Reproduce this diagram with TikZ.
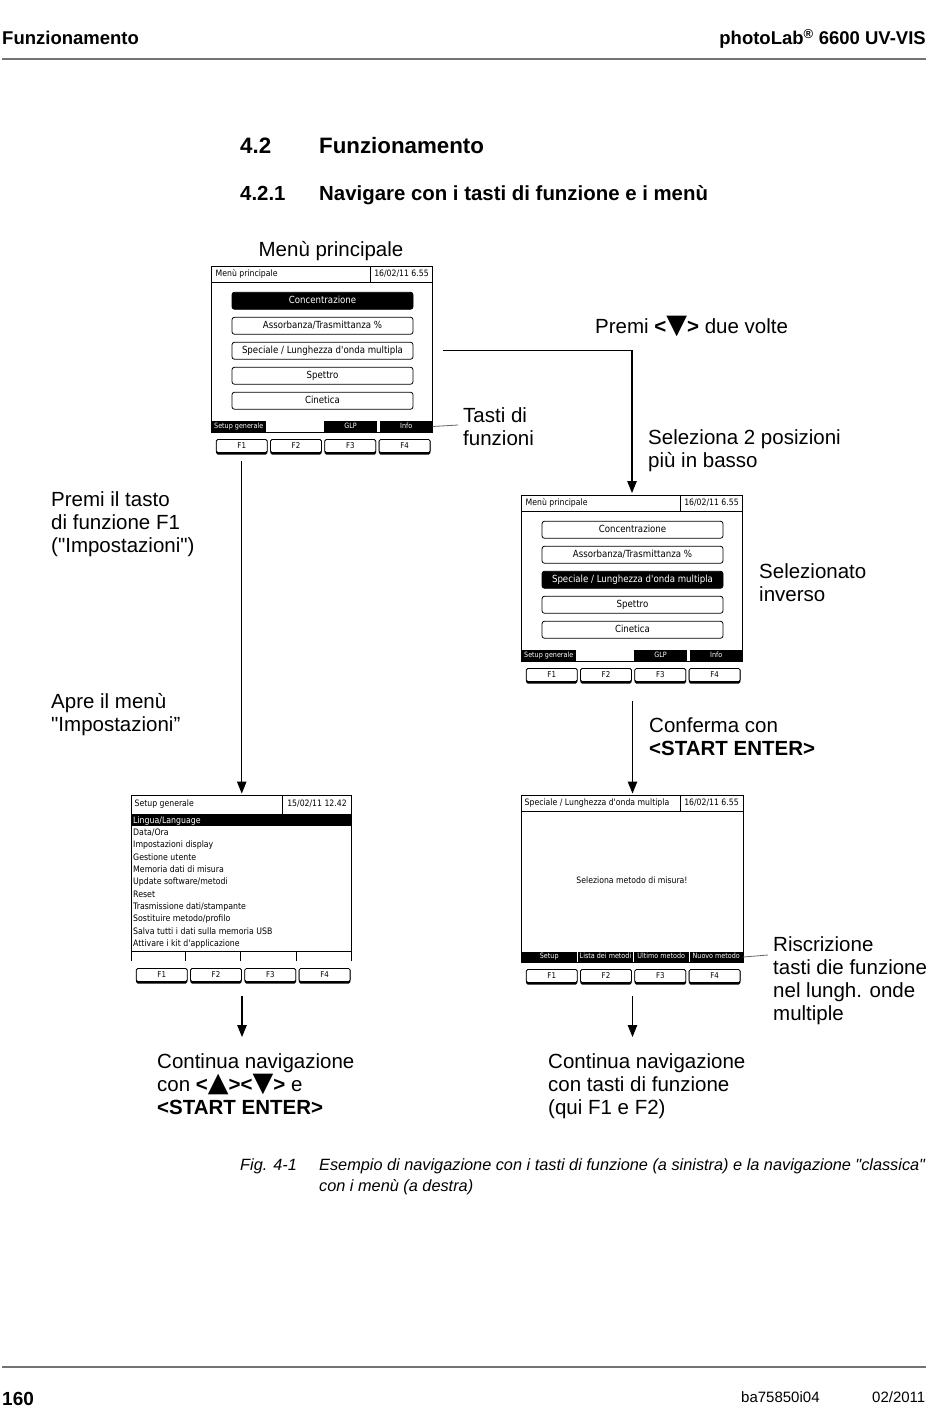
\documentclass[tikz,border=0pt]{standalone}
\usepackage{fontspec}
\setmainfont{Liberation Sans}
\newfontfamily\dejavu{DejaVu Sans}
\newfontfamily\scrfont[FakeStretch=0.88]{DejaVu Sans}
\usetikzlibrary{arrows.meta}
\newcommand\dtri{{\dejavu\fontsize{27}{20}\selectfont ▼}}
\newcommand\utri{{\dejavu\fontsize{27}{20}\selectfont ▲}}
\tikzset{
  lbl/.style={font=\fontsize{20.5}{23}\selectfont, anchor=base west, inner sep=0, align=left},
  arr/.style={line width=1.1pt, -{Triangle[width=9.5pt,length=12pt]}},
  pointer/.style={line width=.8pt, draw=black!60},
  scrbox/.style={draw, line width=1pt, inner sep=0, outer sep=0, anchor=north west},
  hdrtxt/.style={font=\scrfont\fontsize{8.8}{9}\selectfont, inner sep=0, text height=6.4pt, text depth=1.9pt},
  btn/.style={draw, line width=.8pt, rounded corners=2.5pt, minimum width=181pt, minimum height=17pt, inner sep=0, font=\scrfont\fontsize{9.8}{10}\selectfont, text height=7.2pt, text depth=2pt},
  btnsel/.style={btn, fill=black, text=white},
  tabbox/.style={fill=black, text=white, font=\scrfont\fontsize{7.3}{8}\selectfont, inner sep=0, minimum height=11pt, text height=5.3pt, text depth=1.5pt},
  fkey/.style={draw, fill=white, line width=.8pt, rounded corners=1.5pt, minimum width=51pt, minimum height=13pt, inner sep=0, font=\scrfont\fontsize{8}{8}\selectfont, text height=5.8pt, text depth=1.7pt},
  listtxt/.style={font=\scrfont\fontsize{8.9}{9}\selectfont, inner sep=0, anchor=base west},
  title/.style={anchor=base west, inner sep=0},
}
\newcommand\fkeyrow[2]{% prefix, y-centre
  \foreach \k/\cx in {1/30.25,2/84.5,3/138.8,4/193.1}{
    \fill[rounded corners=1.5pt] (\cx-25.7,#2-6.5) rectangle (\cx+25.7,#2+8.5);
    \node[fkey] (#1f\k) at (\cx,#2) {F\k};
  }}
\newcommand\mainmenu[8]{% prefix, x, y, styles of five buttons
\begin{scope}[shift={(#2,#3)}]
  \node[scrbox, minimum width=221pt, minimum height=166pt] (#1) at (0,0) {};
  \draw[line width=.8pt] (0,16) -- (221,16) (159,0) -- (159,16);
  \node[hdrtxt, anchor=west] (#1h) at (4,8.5) {Menù principale};
  \node[hdrtxt] (#1d) at (190,8.5) {16/02/11 6.55};
  \node[#4] (#1b1) at (111,34.75) {Concentrazione};
  \node[#5] (#1b2) at (111,59.75) {Assorbanza/Trasmittanza \%};
  \node[#6] (#1b3) at (111,84.75) {Speciale / Lunghezza d'onda multipla};
  \node[#7] (#1b4) at (111,109.75) {Spettro};
  \node[#8] (#1b5) at (111,134.75) {Cinetica};
  \node[tabbox, minimum width=54.5pt] (#1t1) at (27.25,160.5) {Setup generale};
  \node[tabbox, minimum width=53pt] (#1t3) at (139,160.5) {GLP};
  \node[tabbox, minimum width=52.5pt] (#1t4) at (194.75,160.5) {Info};
  \fkeyrow{#1}{180}
\end{scope}}
\begin{document}
\begin{tikzpicture}[x=1pt,y=-1pt]
\useasboundingbox (0,0) rectangle (950,1409);
\fill[white] (0,0) rectangle (950,1409);

% page header
\node[title, font=\bfseries\fontsize{18.5}{20}\selectfont] (hl) at (2,44.5) {Funzionamento};
\node[anchor=base east, inner sep=0, font=\bfseries\fontsize{18.5}{20}\selectfont] (hr) at (926,44.5) {photoLab\textsuperscript{®} 6600 UV-VIS};
\draw[black!55, line width=1.5pt] (2,59) -- (926,59);

% titles
\node[title, font=\bfseries\fontsize{22.3}{26}\selectfont] (t1n) at (240,153) {4.2};
\node[title, font=\bfseries\fontsize{22.3}{26}\selectfont] (t1) at (319,153) {Funzionamento};
\node[title, font=\bfseries\fontsize{20.4}{23}\selectfont] (t2n) at (240,200) {4.2.1};
\node[title, font=\bfseries\fontsize{20.4}{23}\selectfont] (t2) at (319,200) {Navigare con i tasti di funzione e i menù};

% screens 1 and 2
\node[lbl, anchor=base] (mp) at (331,256) {Menù principale};
\mainmenu{s1}{211.5}{266}{btnsel}{btn}{btn}{btn}{btn}
\mainmenu{s2}{521.5}{495}{btn}{btn}{btnsel}{btn}{btn}

% screen 3
\begin{scope}[shift={(131.5,795)}]
  \node[scrbox, draw=none, minimum width=220pt, minimum height=166pt] (s3) at (0,0) {};
  \draw[line width=1pt] (0,166) -- (0,0) -- (220,0) -- (220,166);
  \draw[line width=.8pt] (0,19) -- (220,19) (151,0) -- (151,19);
  \node[hdrtxt, anchor=west] (s3h) at (3,9.5) {Setup generale};
  \node[hdrtxt] (s3d) at (185.5,9.5) {15/02/11 12.42};
  \fill (0,19) rectangle (220,31.3);
  \node[listtxt, text=white] (s3l1) at (1.5,28.3) {Lingua/Language};
  \node[listtxt] (s3l2) at (1.5,40.6) {Data/Ora};
  \node[listtxt] (s3l3) at (1.5,52.9) {Impostazioni display};
  \node[listtxt] (s3l4) at (1.5,65.2) {Gestione utente};
  \node[listtxt] (s3l5) at (1.5,77.5) {Memoria dati di misura};
  \node[listtxt] (s3l6) at (1.5,89.8) {Update software/metodi};
  \node[listtxt] (s3l7) at (1.5,102.1) {Reset};
  \node[listtxt] (s3l8) at (1.5,114.4) {Trasmissione dati/stampante};
  \node[listtxt] (s3l9) at (1.5,126.7) {Sostituire metodo/profilo};
  \node[listtxt] (s3l10) at (1.5,139) {Salva tutti i dati sulla memoria USB};
  \node[listtxt] (s3l11) at (1.5,151.3) {Attivare i kit d'applicazione};
  \draw[line width=.8pt] (0,156) -- (220,156) (54,156) -- (54,166) (109,156) -- (109,166) (164.5,156) -- (164.5,166);
  \fkeyrow{s3}{180}
\end{scope}

% screen 4
\begin{scope}[shift={(521.5,795)}]
  \node[scrbox, minimum width=221.5pt, minimum height=167pt] (s4) at (0,0) {};
  \draw[line width=.8pt] (0,16) -- (221.5,16) (158.5,0) -- (158.5,16);
  \node[hdrtxt, anchor=west] (s4h) at (3,8.5) {Speciale / Lunghezza d'onda multipla};
  \node[hdrtxt] (s4d) at (190,8.5) {16/02/11 6.55};
  \node[hdrtxt] (s4c) at (110.5,86) {Seleziona metodo di misura!};
  \node[tabbox, minimum width=55.5pt] (s4t1) at (27.75,162) {Setup};
  \node[tabbox, minimum width=55pt] (s4t2) at (84,162) {Lista dei metodi};
  \node[tabbox, minimum width=54.5pt] (s4t3) at (139.75,162) {Ultimo metodo};
  \node[tabbox, minimum width=53.5pt] (s4t4) at (194.75,162) {Nuovo metodo};
  \fkeyrow{s4}{181}
\end{scope}

% labels (multi-line nodes: base is the baseline of the last line)
\node[lbl] (prem) at (595,333) {Premi \textbf{<\dtri>} due volte};
\node[lbl] (tasti) at (463,445) {Tasti di\\funzioni};
\node[lbl] (sel2) at (648,467) {Seleziona 2 posizioni\\più in basso};
\node[lbl] (premf1) at (51,552) {Premi il tasto\\di funzione F1\\(\textquotedbl Impostazioni\textquotedbl)};
\node[lbl] (selinv) at (759,601) {Selezionato\\inverso};
\node[lbl] (apre) at (51,731) {Apre il menù\\\textquotedbl Impostazioni”};
\node[lbl] (conf) at (649,755) {Conferma con\\\textbf{<START ENTER>}};
\node[lbl] (risc) at (773,1020) {Riscrizione\\tasti die funzione\\nel lungh. onde\\multiple};
\node[lbl] (cont1) at (157,1114) {Continua navigazione\\con \textbf{<\utri><\dtri>} e\\\textbf{<START ENTER>}};
\node[lbl] (cont2) at (548,1114) {Continua navigazione\\con tasti di funzione\\(qui F1 e F2)};

% connectors
\coordinate (c1) at (458,425);
\coordinate (c2) at (768,955);
\coordinate (b1s) at (242,996);
\coordinate (b1e) at (242,1037);
\coordinate (b2s) at (632.5,996);
\coordinate (b2e) at (632.5,1037);
\coordinate (m2s) at (632.5,701);
\draw[pointer] (s1t4.east) -- (c1);
\draw[pointer] (s4t4.east) -- (c2);
\draw[arr, shorten >=1.5pt] ([yshift=-8pt]s1f1.south) -- (s1f1.south |- s3.north);
\draw[arr, shorten >=2pt] ([xshift=10pt]s1.east |- s1b3.center) -| (s2.north);
\draw[arr, shorten >=1.5pt] (m2s) -- (m2s |- s4.north);
\draw[arr] (b1s) -- (b1e);
\draw[arr] (b2s) -- (b2e);

% caption
\node[title, font=\itshape\fontsize{16.3}{21}\selectfont] (fig) at (240,1170) {Fig. 4-1};
\node[title, font=\itshape\fontsize{16.3}{21}\selectfont, align=left] (cap) at (319,1191) {Esempio di navigazione con i tasti di funzione (a sinistra) e la navigazione \textquotedbl classica\textquotedbl\\con i menù (a destra)};

% footer
\draw[black!55, line width=1.3pt] (2,1367) -- (926,1367);
\node[title, font=\bfseries\fontsize{19}{22}\selectfont] (pg) at (2,1405) {160};
\node[title, font=\fontsize{15}{17}\selectfont] (doc) at (741,1402) {ba75850i04};
\node[title, font=\fontsize{15}{17}\selectfont] (date) at (872,1402) {02/2011};
\end{tikzpicture}
\end{document}
